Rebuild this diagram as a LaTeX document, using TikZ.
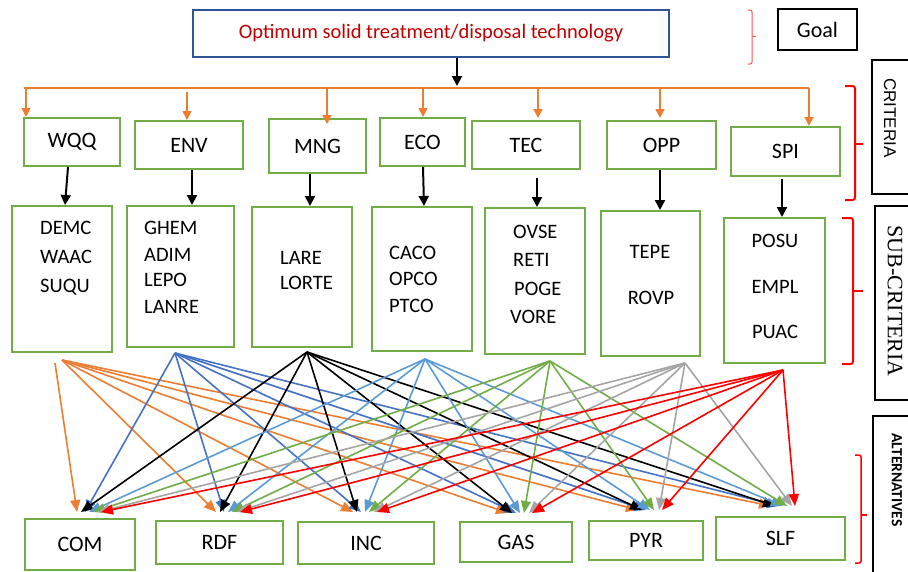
\documentclass[tikz,border=0pt]{standalone}
\usepackage{fontspec}
\setmainfont{Carlito}
\newfontfamily\sideserif{Liberation Serif}
\newfontfamily\sidesans{Liberation Sans}
\usetikzlibrary{arrows.meta,calc}
\definecolor{cgreenbox}{HTML}{70AD47}
\definecolor{cgoalblue}{HTML}{2F5597}
\definecolor{cgoaltext}{HTML}{C00000}
\definecolor{corange}{HTML}{ED7D31}
\definecolor{cblue}{HTML}{4472C4}
\definecolor{clblue}{HTML}{5B9BD5}
\definecolor{cgreen}{HTML}{70AD47}
\definecolor{cgray}{HTML}{A5A5A5}
\definecolor{cbrace}{HTML}{FF0000}
\definecolor{cbracelight}{HTML}{FF5050}
\begin{document}
\begin{tikzpicture}[x=1pt,y=-1pt,
  gbox/.style={draw=cgreenbox, line width=2pt, inner sep=0pt, font=\fontsize{22}{26}\selectfont},
  subtxt/.style={inner sep=0pt, font=\fontsize{20.5}{24}\selectfont},
  blkarrow/.style={draw=black, line width=2pt, -{Triangle[length=10pt,width=10pt]}},
  orarrow/.style={draw=corange, line width=1.6pt, -{Triangle[length=9pt,width=9pt]}},
  fan/.style={line width=1.6pt, -{Triangle[length=12pt,width=10pt]}},
  bracebig/.style={draw=cbrace, line width=2pt, rounded corners=2.5pt},
  sidebox/.style={draw=black, line width=1.5pt},
]
\useasboundingbox (0,0) rectangle (908,571);
\clip (0,0) rectangle (908,571);

% Goal
\node[draw=cgoalblue, line width=1.5pt, minimum width=476pt, minimum height=47pt, inner sep=0pt,
      text=cgoaltext, font=\fontsize{20.5}{24}\selectfont] (goal) at (431,33.5)
      {Optimum solid treatment/disposal technology};
\node[draw=black, line width=1.5pt, minimum width=79pt, minimum height=41pt, inner sep=0pt,
      font=\fontsize{22}{26}\selectfont] (goallbl) at (817.5,29.5) {Goal};

% Criteria
\node[gbox, minimum width=96pt, minimum height=48pt] (wqq) at (72,142) {WQQ};
\node[gbox, minimum width=108pt, minimum height=48pt] (env) at (189,145) {ENV};
\node[gbox, minimum width=97pt, minimum height=54pt] (mng) at (317.5,146) {MNG};
\node[gbox, minimum width=85pt, minimum height=48pt] (eco) at (422.5,142) {ECO};
\node[gbox, minimum width=108pt, minimum height=48pt] (tec) at (526,145) {TEC};
\node[gbox, minimum width=109pt, minimum height=48pt] (opp) at (661.5,145) {OPP};
\node[gbox, minimum width=109pt, minimum height=49pt] (spi) at (785.5,151.5) {SPI};

% Sub-criteria boxes
\node[gbox, minimum width=100pt, minimum height=146pt] (wqqs) at (62,279) {};
\node[gbox, minimum width=107pt, minimum height=141pt] (envs) at (180.5,276.5) {};
\node[gbox, minimum width=100pt, minimum height=140pt] (mngs) at (302,277) {};
\node[gbox, minimum width=100pt, minimum height=144pt] (ecos) at (422,279) {};
\node[gbox, minimum width=100pt, minimum height=146pt] (tecs) at (535,281) {};
\node[gbox, minimum width=99pt, minimum height=145pt] (opps) at (650.5,283.5) {};
\node[gbox, minimum width=101pt, minimum height=145pt] (spis) at (774.5,290.5) {};

% Sub-criteria texts
\node[subtxt, anchor=base west] (t11) at (40,234.5) {DEMC};
\node[subtxt, anchor=base west] (t12) at (40,263.5) {WAAC};
\node[subtxt, anchor=base west] (t13) at (40,292.5) {SUQU};
\node[subtxt, anchor=base west] (t21) at (144,234.5) {GHEM};
\node[subtxt, anchor=base west] (t22) at (144,261.5) {ADIM};
\node[subtxt, anchor=base west] (t23) at (144,286.5) {LEPO};
\node[subtxt, anchor=base west] (t24) at (144,313.5) {LANRE};
\node[subtxt, anchor=base west] (t31) at (280,264.5) {LARE};
\node[subtxt, anchor=base west] (t32) at (280,289.5) {LORTE};
\node[subtxt, anchor=base west] (t41) at (389,259.5) {CACO};
\node[subtxt, anchor=base west] (t42) at (389,285.5) {OPCO};
\node[subtxt, anchor=base west] (t43) at (389,312.5) {PTCO};
\node[subtxt, anchor=base west] (t51) at (513,238.5) {OVSE};
\node[subtxt, anchor=base west] (t52) at (513,266.5) {RETI};
\node[subtxt, anchor=base west] (t53) at (514,295.5) {POGE};
\node[subtxt, anchor=base west] (t54) at (510,323.5) {VORE};
\node[subtxt, anchor=base] (t61) at (650,258.5) {TEPE};
\node[subtxt, anchor=base] (t62) at (651,304.5) {ROVP};
\node[subtxt, anchor=base] (t71) at (775,247.5) {POSU};
\node[subtxt, anchor=base] (t72) at (775,293.5) {EMPL};
\node[subtxt, anchor=base] (t73) at (775,338.5) {PUAC};

% Alternatives
\node[gbox, minimum width=110pt, minimum height=51pt] (com) at (80,544.5) {COM};
\node[gbox, minimum width=127pt, minimum height=43pt] (rdf) at (219.5,542.5) {RDF};
\node[gbox, minimum width=136pt, minimum height=42pt] (inc) at (366,543) {INC};
\node[gbox, minimum width=112pt, minimum height=40pt] (gas) at (516,542) {GAS};
\node[gbox, minimum width=114pt, minimum height=39pt] (pyr) at (646,540.5) {PYR};
\node[gbox, minimum width=129pt, minimum height=43pt] (slf) at (780.5,538.5) {SLF};

% Goal -> bus
\coordinate (busL) at (24,88);
\coordinate (busR) at (809,88);
\draw[blkarrow] ($(goal.south)+(26,0)$) -- ($(goal.south |- busL)+(26,-2)$);
\draw[draw=corange, line width=2pt] (busL) -- (busR);
\coordinate (d1) at (26,88);
\coordinate (d2) at (187,88);
\coordinate (d3) at (327,88);
\coordinate (d4) at (423,88);
\coordinate (d5) at (538,88);
\coordinate (d6) at (660,88);
\coordinate (d7) at (809,88);
\draw[orarrow] (d1) -- (d1 |- wqq.north);
\draw[orarrow] ($(d2)+(0,4)$) -- (d2 |- env.north);
\draw[orarrow] (d3) -- ($(d3 |- mng.north)+(0,6)$);
\draw[orarrow] (d4) -- (d4 |- eco.north);
\draw[orarrow] (d5) -- ($(d5 |- tec.north)+(0,-2)$);
\draw[orarrow] (d6) -- ($(d6 |- opp.north)+(0,-2)$);
\draw[orarrow] (d7) -- (d7 |- spi.north);

% Criteria -> sub-criteria
\draw[blkarrow] ($(wqq.south)+(-4,0)$) -- ($(wqqs.north)+(3,0)$);
\draw[blkarrow] ($(env.south)+(3,0)$) -- ($(envs.north)+(11.5,0)$);
\draw[blkarrow] ($(mng.south)+(-7.5,0)$) -- ($(mngs.north)+(8,0)$);
\draw[blkarrow] ($(eco.south)+(0.5,0)$) -- ($(ecos.north)+(2,0)$);
\draw[blkarrow] ($(tec.south)+(11,8)$) -- ($(tecs.north)+(2,0)$);
\draw[blkarrow] ($(opp.south)+(-1.5,0)$) -- ($(opps.north)+(9.5,0)$);
\draw[blkarrow] ($(spi.south)+(-3.5,2)$) -- ($(spis.north)+(7.5,0)$);

% Fan sources
\coordinate (sO1) at (55,363);
\coordinate (sO) at (62,360);
\coordinate (sB) at (175,353);
\coordinate (sK) at (307,352);
\coordinate (sL) at (425,359);
\coordinate (sG) at (550,361);
\coordinate (sY) at (685,363);
\coordinate (sR) at (783,370);

\draw[fan, draw=corange] (sO1) -- ($(com.north)+(-3,-6)$);
\foreach \alt/\ox/\oy in {rdf/8.5/-8, inc/-1/-9, gas/4/-8, pyr/4/-10, slf/2.5/-10} {
  \draw[fan, draw=corange] (sO) -- ($(\alt.north)+({\ox-12},\oy)$);
}
\foreach \src/\col/\dx in {sB/cblue/-4, sK/black/-8, sL/clblue/0, sG/cgreen/4, sY/cgray/9, sR/red/12} {
  \foreach \alt/\ox/\oy in {com/9/-6, rdf/8.5/-8, inc/-1/-9, gas/4/-8, pyr/4/-10, slf/2.5/-10} {
    \draw[fan, draw=\col] (\src) -- ($(\alt.north)+({\ox+(\dx)},\oy)$);
  }
}

% Braces
\draw[draw=cbracelight, line width=1pt, rounded corners=2pt] (748,10) -- (752,10) -- (752,64) -- (748,64);
\draw[draw=cbracelight, line width=1pt] (752,36) -- (756,36);
\draw[bracebig] (845,86) -- (855,86) -- (855,200) -- (845,200);
\draw[draw=cbrace, line width=2pt] (855,144) -- (863,144);
\draw[bracebig] (842,218) -- (853,218) -- (853,364) -- (842,364);
\draw[draw=cbrace, line width=2pt] (853,291) -- (863,291);
\draw[draw=cbrace, line width=1.5pt, rounded corners=2pt] (855,455) -- (861,455) -- (861,563) -- (855,563);
\draw[draw=cbrace, line width=1.5pt] (861,515) -- (867,515);

% Side boxes
\draw[sidebox] (915,60) -- (872,60) -- (872,194) -- (915,194);
\draw[sidebox] (915,206) -- (875,206) -- (875,400) -- (915,400);
\draw[sidebox] (915,416) -- (873,416) -- (873,580);
\node[rotate=-90, inner sep=0pt, font=\sidesans\fontsize{17}{20}\selectfont] (lcrit) at (890,118) {CRITERIA};
\node[rotate=-90, inner sep=0pt, font=\sideserif\fontsize{22}{26}\selectfont] (lsub) at (895,301) {SUB-CRITERIA};
\node[rotate=-90, inner sep=0pt, font=\bfseries\fontsize{15.5}{18}\selectfont] (lalt) at (897,480) {ALTERNATIVES};
\end{tikzpicture}
\end{document}
